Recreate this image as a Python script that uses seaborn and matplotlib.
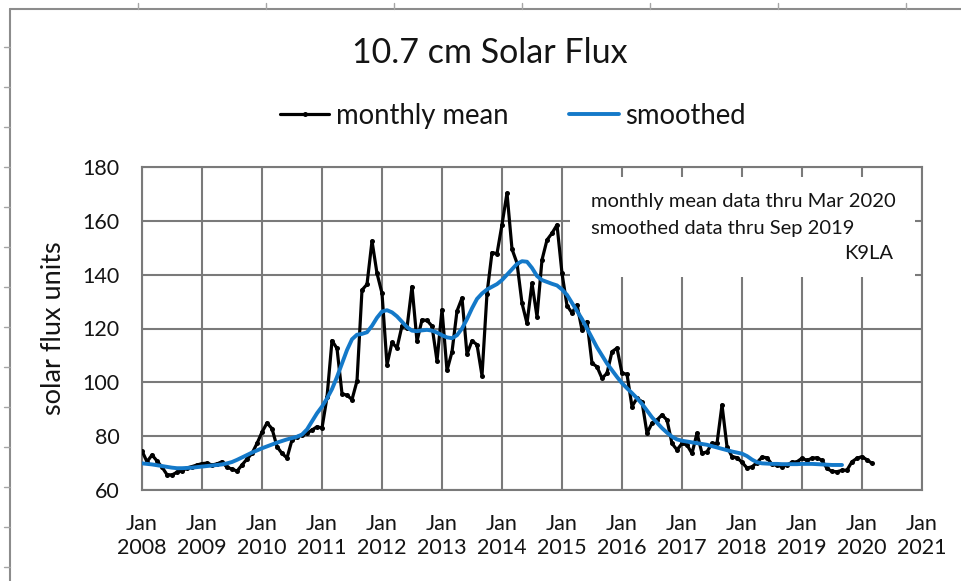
import numpy as np
import pandas as pd
import matplotlib
matplotlib.use("Agg")
import matplotlib.pyplot as plt
from matplotlib.lines import Line2D
from matplotlib.patches import Rectangle
from matplotlib.ticker import MultipleLocator
import seaborn as sns

# ---------------- data ----------------
monthly_2008 = [74.5, 70.5, 73.0, 70.8, 68.5, 65.7, 65.6, 66.6, 67.1, 68.2, 68.7, 69.3]
monthly_2009 = [69.8, 70.0, 69.3, 69.7, 70.5, 68.4, 67.8, 67.0, 69.3, 71.5, 73.6, 77.3]
monthly_2010 = [81.5, 84.9, 82.8, 76.1, 73.6, 71.9, 78.6, 79.8, 80.4, 81.1, 82.3, 83.5]
monthly_2011 = [83.0, 94.5, 115.5, 112.6, 95.8, 95.2, 93.6, 100.5, 134.3, 136.4, 152.5, 140.5]
monthly_2012 = [133.1, 106.5, 114.8, 112.8, 121.0, 120.3, 135.6, 115.3, 123.2, 123.0, 120.9, 108.0]
monthly_2013 = [127.0, 104.4, 111.3, 126.5, 131.3, 110.5, 115.4, 114.0, 102.5, 133.0, 148.2, 147.8]
monthly_2014 = [158.6, 170.3, 149.5, 144.3, 129.4, 121.9, 136.8, 124.4, 145.5, 152.9, 155.4, 158.5]
monthly_2015 = [140.5, 128.5, 125.8, 128.8, 119.5, 122.6, 107.1, 105.8, 101.5, 103.4, 111.4, 112.7]
monthly_2016 = [103.4, 103.0, 91.0, 94.1, 92.8, 81.1, 84.8, 86.0, 87.9, 86.0, 77.3, 74.9]
monthly_2017 = [77.3, 76.7, 73.6, 81.1, 73.6, 74.2, 77.3, 77.3, 91.6, 76.1, 72.4, 72.0]
monthly_2018 = [70.3, 68.2, 68.6, 70.2, 72.2, 72.0, 69.5, 69.2, 68.7, 69.3, 70.3, 70.5]
monthly_2019 = [71.8, 71.0, 71.8, 72.0, 71.0, 68.0, 66.9, 66.8, 67.3, 67.4, 70.5, 71.8]
monthly_2020 = [72.4, 71.2, 69.9]

smoothed_2008 = [69.9, 69.7, 69.5, 69.2, 68.9, 68.6, 68.3, 68.1, 68.1, 68.2, 68.3, 68.5]
smoothed_2009 = [68.7, 68.9, 69.1, 69.3, 69.5, 69.9, 70.4, 71.2, 72.1, 73.0, 73.9, 74.7]
smoothed_2010 = [75.5, 76.2, 76.9, 77.6, 78.2, 78.8, 79.3, 79.8, 80.6, 82.5, 85.5, 88.5]
smoothed_2011 = [91.0, 94.0, 97.5, 102.0, 107.0, 112.0, 116.0, 117.7, 118.0, 118.6, 121.0, 124.0]
smoothed_2012 = [126.3, 126.8, 126.0, 124.5, 122.5, 120.5, 119.2, 119.0, 119.3, 119.5, 119.2, 118.5]
smoothed_2013 = [117.5, 116.7, 116.4, 117.5, 120.0, 123.5, 127.5, 131.0, 133.0, 134.5, 135.5, 136.5]
smoothed_2014 = [138.0, 140.0, 142.0, 144.0, 145.0, 144.8, 142.5, 139.5, 138.0, 137.3, 136.6, 136.0]
smoothed_2015 = [134.5, 132.5, 129.5, 126.5, 123.5, 120.0, 116.5, 113.0, 110.0, 107.0, 104.5, 102.0]
smoothed_2016 = [99.7, 97.8, 96.0, 94.1, 92.0, 89.5, 87.0, 85.0, 83.0, 81.3, 79.8, 78.8]
smoothed_2017 = [78.3, 78.0, 77.7, 77.4, 77.1, 76.8, 76.3, 75.8, 75.3, 74.8, 74.3, 73.9]
smoothed_2018 = [73.5, 72.6, 71.3, 70.3, 69.9, 69.8, 69.7, 69.7, 69.6, 69.6, 69.6, 69.6]
smoothed_2019 = [69.7, 69.7, 69.7, 69.6, 69.5, 69.4, 69.3, 69.3, 69.3]

year_ticks = list(range(2008, 2022))
tick_labels = [f"Jan\n{y}" for y in year_ticks]
y_ticks = [60, 80, 100, 120, 140, 160, 180]

title = "10.7 cm Solar Flux"
note_lines = ["monthly mean data thru Mar 2020", "smoothed data thru Sep 2019"]
credit = "K9LA"

# ---------------- build tables ----------------
monthly = (monthly_2008 + monthly_2009 + monthly_2010 + monthly_2011 + monthly_2012 +
           monthly_2013 + monthly_2014 + monthly_2015 + monthly_2016 + monthly_2017 +
           monthly_2018 + monthly_2019 + monthly_2020)
smoothed = (smoothed_2008 + smoothed_2009 + smoothed_2010 + smoothed_2011 + smoothed_2012 +
            smoothed_2013 + smoothed_2014 + smoothed_2015 + smoothed_2016 + smoothed_2017 +
            smoothed_2018 + smoothed_2019)

df_m = pd.DataFrame({"t": 2008 + np.arange(len(monthly)) / 12.0, "v": monthly})
df_s = pd.DataFrame({"t": 2008 + np.arange(len(smoothed)) / 12.0, "v": smoothed})

# ---------------- style ----------------
sns.set_style("white")
plt.rcParams["font.family"] = ["Lato", "DejaVu Sans"]
TXT = "#141414"
GRID = "#7a7a7a"
BLUE = "#1479c9"

fig = plt.figure(figsize=(9.61, 5.81), dpi=100)
ax = fig.add_axes([142 / 961, 1 - 490 / 581, 780 / 961, 323 / 581])

sns.lineplot(data=df_m, x="t", y="v", ax=ax, color="black", lw=2.3,
             marker="o", markersize=3.6, markeredgewidth=0, label="monthly mean", zorder=4)
sns.lineplot(data=df_s, x="t", y="v", ax=ax, color=BLUE, lw=2.8,
             label="smoothed", zorder=5)

ax.set_xlim(2008, 2021)
ax.set_ylim(60, 180)
ax.set_xticks(year_ticks)
ax.set_xticklabels(tick_labels)
ax.set_yticks(y_ticks)
ax.yaxis.set_minor_locator(MultipleLocator(5))
ax.set_xlabel("")
ax.set_ylabel("solar flux units", fontsize=19.5, color=TXT, labelpad=12)

ax.grid(True, which="major", color=GRID, lw=1.5)
ax.set_axisbelow(True)
for s in ax.spines.values():
    s.set_color(GRID)
    s.set_linewidth(1.5)

ax.tick_params(axis="both", which="major", direction="out", color=GRID, width=1.5,
               labelsize=15.5, labelcolor=TXT)
ax.tick_params(axis="y", which="major", length=7, pad=9)
ax.tick_params(axis="y", which="minor", direction="out", length=5, width=1.2, color=GRID)
ax.tick_params(axis="x", which="major", length=7, pad=10)
for lab in ax.get_xticklabels():
    lab.set_linespacing(1.25)

# white note box
ax.add_patch(Rectangle((0.549, 0.659), 0.442, 0.31, transform=ax.transAxes,
                       facecolor="white", edgecolor="none", zorder=1.5))
ax.text(0.576, 0.892, note_lines[0], transform=ax.transAxes, fontsize=14.5,
        color=TXT, va="center", ha="left", zorder=6)
ax.text(0.576, 0.811, note_lines[1], transform=ax.transAxes, fontsize=14.5,
        color=TXT, va="center", ha="left", zorder=6)
ax.text(0.963, 0.731, credit, transform=ax.transAxes, fontsize=14.5,
        color=TXT, va="center", ha="right", zorder=6)

# title and legend
fig.text(490 / 961, 1 - 53 / 581, title, fontsize=24.5, color=TXT, ha="center", va="center")
h, l = ax.get_legend_handles_labels()
if ax.legend_:
    ax.legend_.remove()
fig.legend(h, l, loc="center", bbox_to_anchor=(513 / 961, 1 - 116 / 581), ncol=2,
           frameon=False, fontsize=19.8, handlelength=1.8, handletextpad=0.25,
           columnspacing=2.2, labelcolor=TXT)

# outer sheet frame
fig.add_artist(Line2D([10 / 961, 10 / 961], [0, 1 - 9 / 581], transform=fig.transFigure,
                      color="#8c8c8c", lw=1.5))
fig.add_artist(Line2D([10 / 961, 1], [1 - 9 / 581, 1 - 9 / 581], transform=fig.transFigure,
                      color="#8c8c8c", lw=1.5))
for yy in np.arange(46.7, 581, 40):
    fig.add_artist(Line2D([4 / 961, 10 / 961], [1 - yy / 581] * 2, transform=fig.transFigure,
                          color="#a6a6a6", lw=1.0))
for xx in np.arange(138, 961, 128):
    fig.add_artist(Line2D([xx / 961] * 2, [1 - 9 / 581, 1 - 3 / 581], transform=fig.transFigure,
                          color="#a6a6a6", lw=1.0))

fig.savefig("out.png", dpi=100, facecolor="white")
